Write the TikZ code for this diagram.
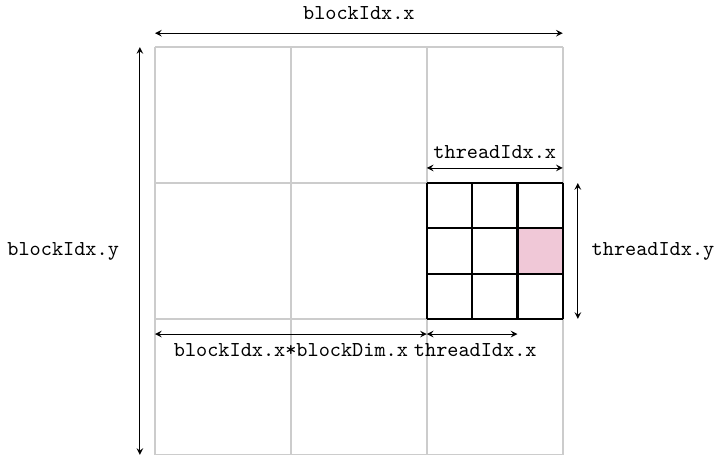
\documentclass[tikz,border=0pt]{standalone}
\usepackage{tikz}
\usepackage{xcolor}
\usetikzlibrary{positioning}
\definecolor{gridgray}{RGB}{204, 204, 204}
\definecolor{threadpink}{RGB}{240, 200, 215}

\begin{document}
\begin{tikzpicture}[>=stealth, font=\ttfamily]
    \useasboundingbox (-2.566,0) rectangle (9.32,7.53);
    % Grid of blocks
    \foreach \i in {0,1,2,3} {
        \draw[gridgray, line width=0.9pt] (2.25*\i,0) -- (2.25*\i,6.75);
        \draw[gridgray, line width=0.9pt] (0,2.25*\i) -- (6.75,2.25*\i);
    }

    % Block of threads
    \fill[threadpink] (6.0,3.0) rectangle (6.75,3.75);
    \foreach \j in {0,1,2,3} {
        \draw[black, line width=1pt] (4.5+0.75*\j,2.25) -- (4.5+0.75*\j,4.5);
        \draw[black, line width=1pt] (4.5,2.25+0.75*\j) -- (6.75,2.25+0.75*\j);
    }

    % Grid extent
    \coordinate (gl) at (0,6.98);
    \coordinate (gr) at (6.75,6.98);
    \draw[<->] (gl) -- (gr) node[midway, above=3pt] (bx) {blockIdx.x};
    \coordinate (gt) at (-0.25,6.75);
    \coordinate (gb) at (-0.25,0);
    \draw[<->] (gt) -- (gb);
    \node (by) at (-1.52,3.375) {blockIdx.y};

    % Block extent
    \coordinate (tl) at (4.5,4.75);
    \coordinate (tr) at (6.75,4.75);
    \draw[<->] (tl) -- (tr) node[midway, above=1pt] (tx) {threadIdx.x};
    \coordinate (tt) at (7.0,4.5);
    \coordinate (tb) at (7.0,2.25);
    \draw[<->] (tt) -- (tb) node[midway, right=3pt] (ty) {threadIdx.y};

    % Global index
    \coordinate (o) at (0,2.0);
    \coordinate (s) at (4.5,2.0);
    \coordinate (p) at (6.0,2.0);
    \draw[<->] (o) -- (s) node[midway, below=1pt] (off) {blockIdx.x*blockDim.x};
    \draw[<->] (s) -- (p);
    \node[anchor=base west, inner sep=0pt] (loc) at ([xshift=-0.22cm]off.base -| s) {threadIdx.x};
\end{tikzpicture}
\end{document}
